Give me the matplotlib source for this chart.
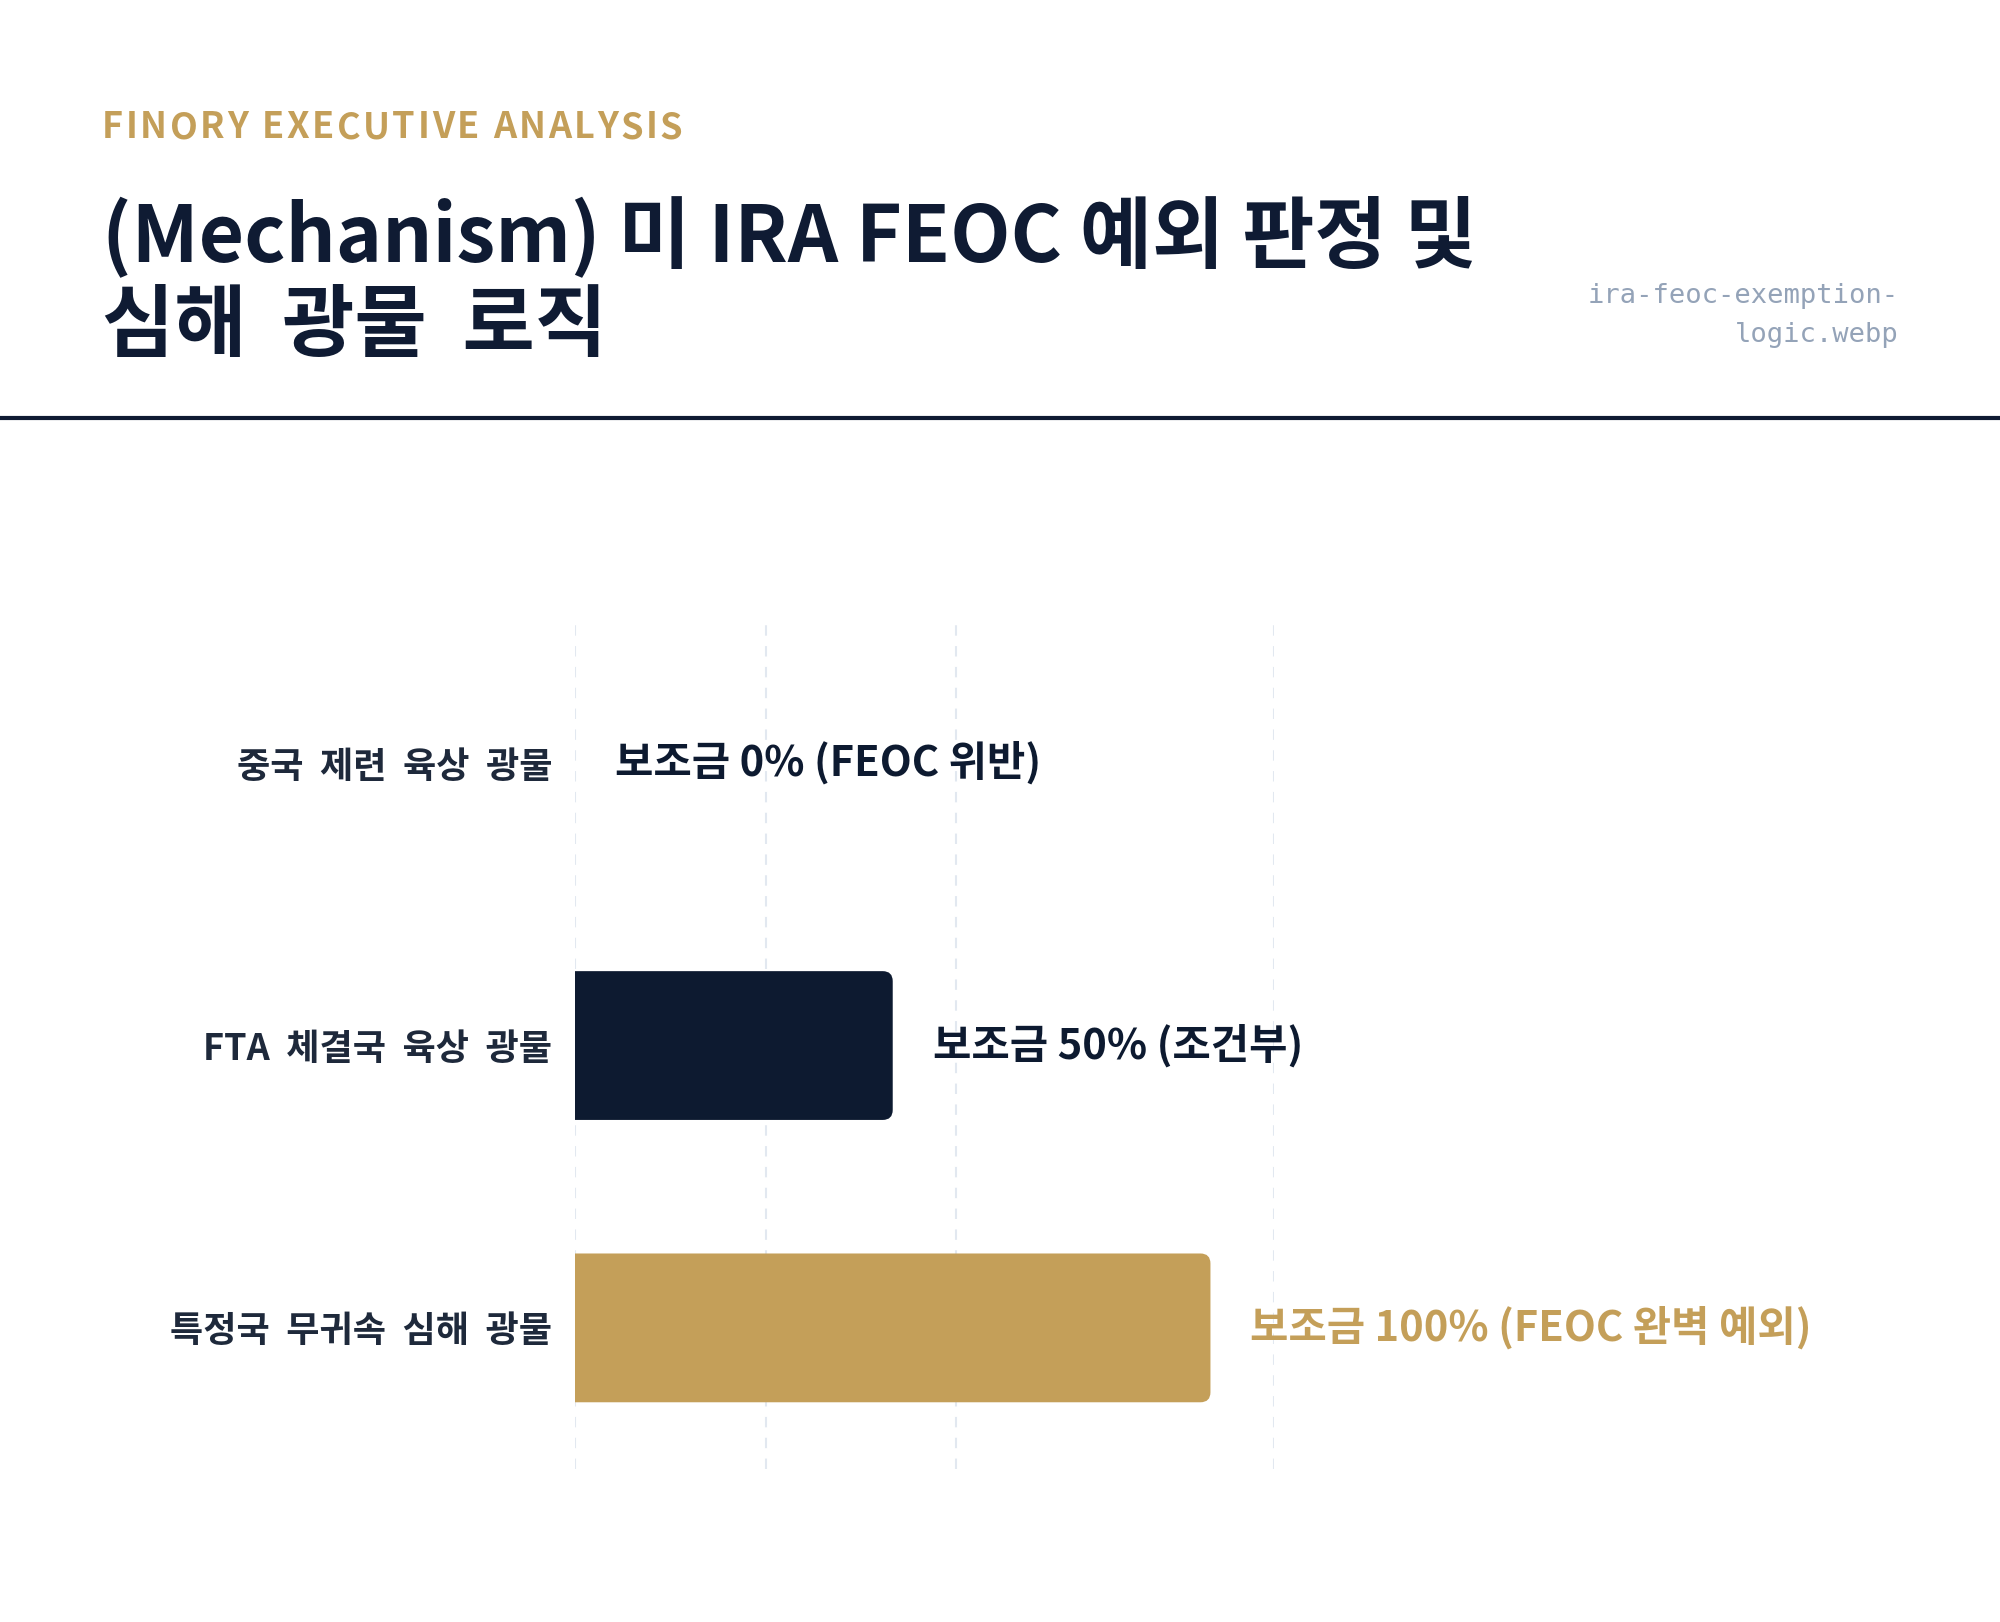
import matplotlib
matplotlib.use("Agg")
import matplotlib.pyplot as plt
from matplotlib.patches import PathPatch
from matplotlib.path import Path
from matplotlib.lines import Line2D

plt.rcParams['font.family'] = ['Noto Sans CJK KR', 'DejaVu Sans']

# data
categories = ['중국 제련 육상 광물', 'FTA 체결국 육상 광물', '특정국 무귀속 심해 광물']
subsidy = [0, 50, 100]
value_labels = ['보조금 0% (FEOC 위반)', '보조금 50% (조건부)', '보조금 100% (FEOC 완벽 예외)']
grid_ticks = [0, 30, 60, 110]

navy = '#0d1a30'
gold = '#c49f59'
bar_colors = [navy, navy, gold]
label_colors = [navy, navy, gold]

fig = plt.figure(figsize=(20, 16.22), dpi=100)
fig.patch.set_facecolor('white')
renderer = fig.canvas.get_renderer()


def spaced_text(x, y, s, spacing_px, **kw):
    # draw text one char at a time, with extra letter spacing
    xpx = x * 2000
    for ch in s:
        t = fig.text(xpx / 2000, y, ch, **kw)
        w = t.get_window_extent(renderer).width
        if ch == ' ':
            w = t.get_fontsize() * 100 / 72 * 0.25
        xpx += w + spacing_px


def rounded_bar(x0, yc, w, h, rx, ry):
    y0, y1 = yc - h / 2, yc + h / 2
    verts = [(x0, y0), (x0 + w - rx, y0), (x0 + w, y0), (x0 + w, y0 + ry),
             (x0 + w, y1 - ry), (x0 + w, y1), (x0 + w - rx, y1), (x0, y1), (x0, y0)]
    codes = [Path.MOVETO, Path.LINETO, Path.CURVE3, Path.CURVE3,
             Path.LINETO, Path.CURVE3, Path.CURVE3, Path.LINETO, Path.CLOSEPOLY]
    return Path(verts, codes)


# header
spaced_text(0.051, 0.9213, 'FINORY EXECUTIVE ANALYSIS', 2.5, color=gold, fontsize=26,
            fontweight='bold', va='center', ha='left')
fig.text(0.051, 0.854, '(Mechanism) 미 IRA FEOC 예외 판정 및', color='#0f1b33',
         fontsize=56.5, fontweight='bold', va='center', ha='left')
fig.text(0.051, 0.798, '심해  광물  로직', color='#0f1b33',
         fontsize=56.5, fontweight='bold', va='center', ha='left')
fig.text(0.9495, 0.8175, 'ira-feoc-exemption-', color='#94a3b8', fontsize=19.5,
         family='DejaVu Sans Mono', va='center', ha='right')
fig.text(0.9495, 0.7935, 'logic.webp', color='#94a3b8', fontsize=19.5,
         family='DejaVu Sans Mono', va='center', ha='right')
fig.add_artist(Line2D([0, 1], [0.7423, 0.7423], lw=3, color='#0f1b33'))

# chart
ax = fig.add_axes([0.2875, 0.0943, 0.3495, 0.5222])
ax.set_xlim(0, 110)
ax.set_ylim(2.5, -0.5)

bar_h = 0.527
bb = ax.get_position()
px_x = bb.width * 2000 / 110
px_y = bb.height * 1622 / 3
rx = 10 / px_x
ry = 10 / px_y

for i, v in enumerate(subsidy):
    if v > 0:
        ax.add_patch(PathPatch(rounded_bar(0, i, v, bar_h, rx, ry),
                               fc=bar_colors[i], ec='none', zorder=3))
    ax.annotate(value_labels[i], (v, i), xytext=(28.8, 0), textcoords='offset points',
                va='center', ha='left', fontsize=30, fontweight='bold',
                color=label_colors[i], zorder=4, annotation_clip=False)

ax.set_yticks(range(len(categories)))
# wider word gaps, like the original's label font
ax.set_yticklabels([c.replace(' ', '  ') for c in categories], fontsize=26,
                   fontweight='bold', color='#1e293b')
ax.set_xticks(grid_ticks)
ax.set_xticklabels([])
ax.tick_params(axis='both', length=0)
ax.tick_params(axis='y', pad=16.5)
ax.grid(axis='x', color='#e2e8f0', linestyle=(0, (5, 5)), lw=1.5, zorder=0)
ax.set_axisbelow(True)
for s in ax.spines.values():
    s.set_visible(False)

fig.savefig('out.png', dpi=100, facecolor='white')
